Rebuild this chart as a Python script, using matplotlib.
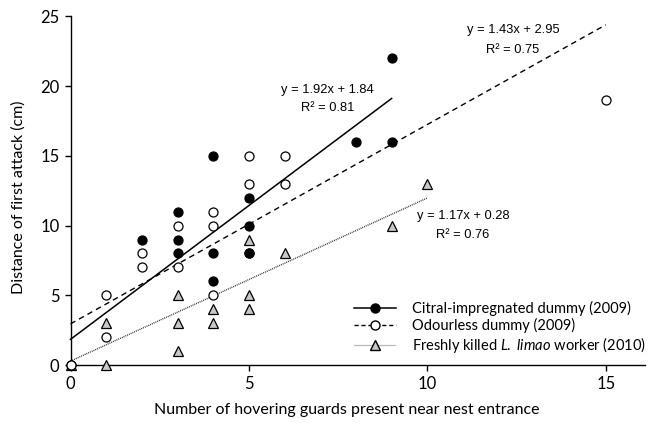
import matplotlib
matplotlib.use("Agg")
import matplotlib.pyplot as plt

plt.rcParams['font.family'] = ['Lato', 'DejaVu Sans']
plt.rcParams['mathtext.fontset'] = 'custom'
plt.rcParams['mathtext.rm'] = 'Lato'
plt.rcParams['mathtext.it'] = 'Lato:italic'

# Citral-impregnated dummy (2009)
citral_x = [0, 2, 3, 3, 3, 4, 4, 4, 5, 5, 5, 5, 8, 9, 9]
citral_y = [0, 9, 11, 9, 8, 15, 8, 6, 12, 10, 8, 8, 16, 22, 16]

# Odourless dummy (2009)
odour_x = [0, 1, 1, 2, 2, 3, 3, 4, 4, 4, 5, 5, 6, 6, 15]
odour_y = [0, 5, 2, 8, 7, 10, 7, 11, 10, 5, 15, 13, 15, 13, 19]

# Freshly killed L. limao worker (2010)
worker_x = [0, 1, 1, 3, 3, 3, 4, 4, 5, 5, 5, 6, 9, 10]
worker_y = [0, 3, 0, 5, 3, 1, 4, 3, 9, 5, 4, 8, 10, 13]

# regression fits: (slope, intercept, x end, r2)
fit_citral = (1.92, 1.84, 9, 0.81)
fit_odour = (1.43, 2.95, 15, 0.75)
fit_worker = (1.17, 0.28, 10, 0.76)

fig = plt.figure(figsize=(6.48, 4.23), dpi=100)
ax = fig.add_axes([0.1088, 0.1371, 0.8866, 0.824])

ms = 6.5
# fit lines
s, b, xe, _ = fit_citral
ax.plot([0, xe], [b, s * xe + b], color='black', lw=1.1, clip_on=False)
s, b, xe, _ = fit_odour
ax.plot([0, xe], [b, s * xe + b], color='black', lw=1.0, ls=(0, (4, 3)), clip_on=False)
s, b, xe, _ = fit_worker
ax.plot([0, xe], [b, s * xe + b], color='#333333', lw=1.0, ls=(0, (0.7, 0.7)), clip_on=False)

ax.plot(worker_x, worker_y, ls='none', marker='^', ms=ms, mfc='#c8c8c8', mec='black', mew=0.9,
        clip_on=False, zorder=3)
ax.plot(citral_x, citral_y, ls='none', marker='o', ms=ms, mfc='black', mec='black', mew=0.9,
        clip_on=False, zorder=4)
ax.plot(odour_x, odour_y, ls='none', marker='o', ms=ms, mfc='white', mec='black', mew=0.9,
        clip_on=False, zorder=5)

# legend handles
h1, = ax.plot([], [], color='black', lw=1.1, marker='o', ms=ms, mfc='black', mec='black')
h2, = ax.plot([], [], color='black', lw=1.0, ls=(0, (3, 2)), marker='o', ms=ms, mfc='white', mec='black')
h3, = ax.plot([], [], color='#777777', lw=0.9, ls=(0, (0.8, 0.8)), marker='^', ms=ms,
              mfc='#c8c8c8', mec='black')
ax.legend([h1, h2, h3],
          ['Citral-impregnated dummy (2009)', 'Odourless dummy (2009)',
           r'Freshly killed $\mathit{L.\ limao}$ worker (2010)'],
          loc='center left', bbox_to_anchor=(0.4935, 0.106), frameon=False,
          fontsize=10.5, handlelength=2.9, handletextpad=1.1, labelspacing=0.15,
          borderpad=0, borderaxespad=0)

# equations
eq_font = dict(family='Liberation Sans', fontsize=9.3, ha='center', va='center')
ax.text(7.2, 19.7, 'y = 1.92x + 1.84', **eq_font)
ax.text(7.2, 18.4, 'R² = 0.81', **eq_font)
ax.text(12.4, 24.0, 'y = 1.43x + 2.95', **eq_font)
ax.text(12.4, 22.6, 'R² = 0.75', **eq_font)
ax.text(11.0, 10.7, 'y = 1.17x + 0.28', **eq_font)
ax.text(11.0, 9.3, 'R² = 0.76', **eq_font)

ax.set_xlim(0, 16.1)
ax.set_ylim(0, 25)
ax.set_xticks([0, 5, 10, 15])
ax.set_yticks([0, 5, 10, 15, 20, 25])
ax.spines['top'].set_visible(False)
ax.spines['right'].set_visible(False)
ax.spines['left'].set_linewidth(1.0)
ax.spines['bottom'].set_linewidth(1.0)
ax.tick_params(direction='out', length=4, width=1.0, labelsize=12, pad=4)

ax.set_xlabel('Number of hovering guards present near nest entrance', fontsize=11.5)
ax.set_ylabel('Distance of first attack (cm)', fontsize=11.5)
ax.xaxis.set_label_coords(0.48, -0.11)
ax.yaxis.set_label_coords(-0.078, 0.48)

fig.savefig('out.png', dpi=100)
